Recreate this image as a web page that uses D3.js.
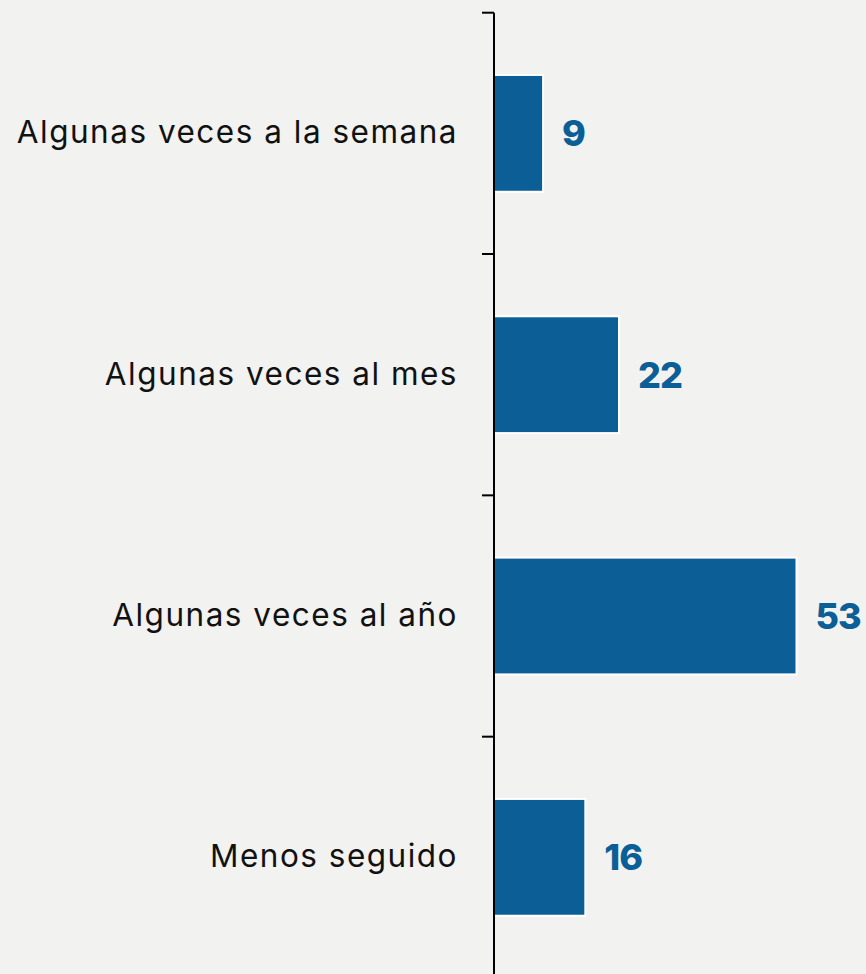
<!DOCTYPE html>
<html>
<head>
<meta charset="utf-8">
<script src="https://cdn.jsdelivr.net/npm/d3@7"></script>
<style>
  html, body { margin: 0; padding: 0; background: #f2f2f1; }
  svg { display: block; }
</style>
</head>
<body>
<svg width="866" height="974"></svg>
<script>
// categories and values (percent)
var categories = ["Algunas veces a la semana", "Algunas veces al mes", "Algunas veces al año", "Menos seguido"];
var values = [8.6, 21.9, 53, 16];

function main() {
    var svg = d3.select("svg"),
        axisX = 494,
        top = 12.7,
        bottom = 978;

    // paper-ish background
    svg.append("rect")
        .attr("width", 866)
        .attr("height", 974)
        .attr("fill", "#f2f2f1");

    var data = categories.map(function(c, i) { return { cat: c, value: values[i] }; });

    var yScale = d3.scaleBand()
        .domain(categories)
        .range([top, bottom])
        .paddingInner(0.516)
        .paddingOuter(0.258);

    var xScale = d3.scaleLinear()
        .domain([0, 65])
        .range([0, 371]);

    var g = svg.append("g")
        .attr("transform", "translate(" + axisX + ",0)");

    // bars
    g.selectAll(".bar")
        .data(data)
        .enter().append("rect")
        .attr("class", "bar")
        .attr("x", 0)
        .attr("y", function(d) { return yScale(d.cat); })
        .attr("width", function(d) { return xScale(d.value); })
        .attr("height", yScale.bandwidth())
        .attr("fill", "#0b5e96")
        .attr("stroke", "#ffffff")
        .attr("stroke-width", 2);

    // value labels
    g.selectAll(".val")
        .data(data)
        .enter().append("text")
        .attr("class", "val")
        .attr("x", function(d) { return xScale(d.value) + 19; })
        .attr("y", function(d) { return yScale(d.cat) + yScale.bandwidth() / 2; })
        .attr("dy", "0.36em")
        .style("font-family", "Inter, 'Noto Sans', sans-serif")
        .style("font-weight", "800")
        .style("font-size", "36px")
        .style("letter-spacing", "-1px")
        .attr("fill", "#0b5e96")
        .text(function(d) { return Math.round(d.value); });

    // category labels (no ticks, they go on band edges below)
    var axis = g.append("g")
        .call(d3.axisLeft(yScale).tickSize(0).tickPadding(36));
    axis.select(".domain").remove();
    axis.selectAll("text")
        .style("font-family", "Inter, 'Noto Sans', sans-serif")
        .style("font-size", "31.5px")
        .style("font-weight", "400")
        .style("letter-spacing", "1.5px")
        .attr("fill", "#111");

    // axis line and boundary ticks
    var half = yScale.step() * yScale.paddingInner() / 2;
    var edges = categories.map(function(c) { return yScale(c) - half; });
    edges.push(bottom);

    g.append("line")
        .attr("x1", 0).attr("x2", 0)
        .attr("y1", top).attr("y2", bottom)
        .attr("stroke", "#000")
        .attr("stroke-width", 2);

    g.selectAll(".edge")
        .data(edges)
        .enter().append("line")
        .attr("class", "edge")
        .attr("x1", -12).attr("x2", 0)
        .attr("y1", function(d) { return d; })
        .attr("y2", function(d) { return d; })
        .attr("stroke", "#000")
        .attr("stroke-width", 2);
}
main();
</script>
</body>
</html>
